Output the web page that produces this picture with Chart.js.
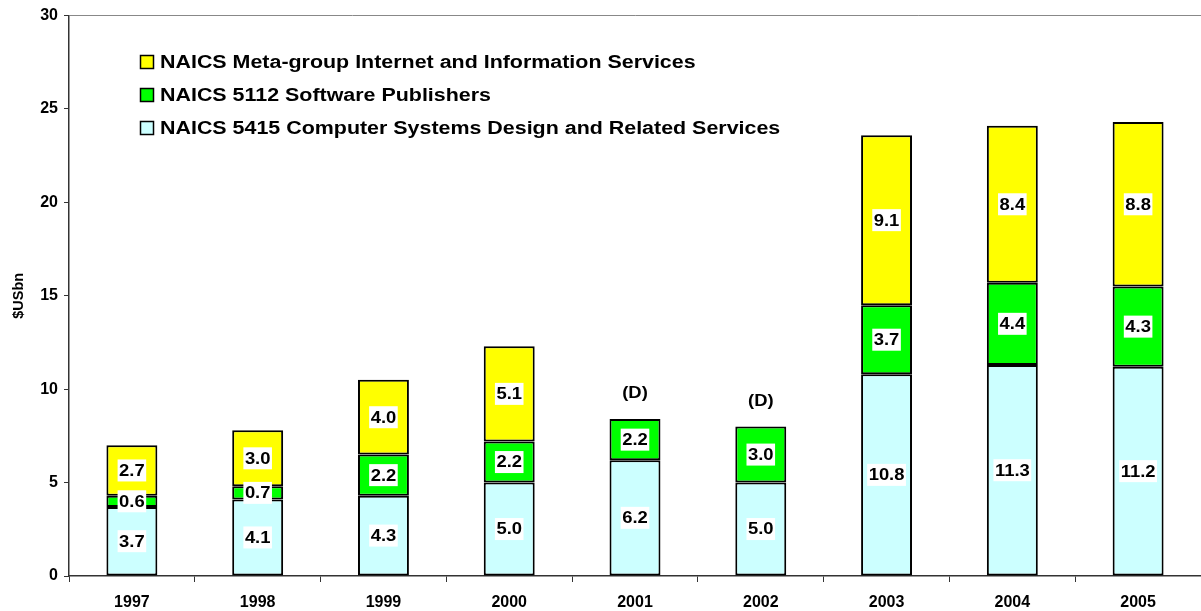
<!DOCTYPE html>
<html>
<head>
<meta charset="utf-8">
<script src="https://cdn.jsdelivr.net/npm/chart.js@4/dist/chart.umd.min.js"></script>
<style>
  html, body { margin: 0; padding: 0; background: #fff; }
  #wrap { width: 1201px; height: 611px; }
</style>
</head>
<body>
<div id="wrap"><canvas id="grafico"></canvas></div>
<script>
var years = ["1997", "1998", "1999", "2000", "2001", "2002", "2003", "2004", "2005"];
var computerSystems = [3.7, 4.1, 4.3, 5.0, 6.2, 5.0, 10.8, 11.3, 11.2];
var softwarePublishers = [0.6, 0.7, 2.2, 2.2, 2.2, 3.0, 3.7, 4.4, 4.3];
var internetInfo = [2.7, 3.0, 4.0, 5.1, null, null, 9.1, 8.4, 8.8];
var notas = ["", "", "", "", "(D)", "(D)", "", "", ""];
var yTicks = [0, 5, 10, 15, 20, 25, 30];

var fuente = "'Liberation Sans', Arial, sans-serif";
var ancho = 1.15; // texto algo ensanchado

function textoAncho(ctx, txt, x, y) {
    ctx.save();
    ctx.translate(x, y);
    ctx.scale(ancho, 1);
    ctx.fillText(txt, 0, 0);
    ctx.restore();
}

// etiquetas de valor en el centro de cada segmento, con fondo blanco
var etiquetas = {
    id: 'etiquetas',
    afterDatasetsDraw: function (chart) {
        var ctx = chart.ctx;
        ctx.save();
        ctx.font = 'bold 16px ' + fuente;
        ctx.textAlign = 'center';
        ctx.textBaseline = 'middle';
        chart.data.datasets.forEach(function (ds, i) {
            var meta = chart.getDatasetMeta(i);
            meta.data.forEach(function (bar, j) {
                var v = ds.data[j];
                if (v === null) return;
                var txt = v.toFixed(1);
                var cy = (bar.y + bar.base) / 2;
                var w = ctx.measureText(txt).width * ancho + 3;
                ctx.fillStyle = '#fff';
                ctx.fillRect(bar.x - w / 2, cy - 11, w, 22);
                ctx.fillStyle = '#000';
                textoAncho(ctx, txt, bar.x, cy + 1);
            });
        });
        // notas encima de la columna
        notas.forEach(function (n, j) {
            if (!n) return;
            var top = null;
            chart.data.datasets.forEach(function (ds, i) {
                if (ds.data[j] === null) return;
                var el = chart.getDatasetMeta(i).data[j];
                if (top === null || el.y < top) top = el.y;
            });
            ctx.fillStyle = '#000';
            textoAncho(ctx, n, chart.getDatasetMeta(0).data[j].x, top - 25);
        });
        ctx.restore();
    }
};

// leyenda dentro del area del grafico
var leyenda = {
    id: 'leyenda',
    afterDraw: function (chart) {
        var ctx = chart.ctx;
        ctx.save();
        ctx.font = 'bold 18px ' + fuente;
        ctx.textAlign = 'left';
        ctx.textBaseline = 'middle';
        var ds = chart.data.datasets.slice().reverse();
        ds.forEach(function (d, k) {
            var cy = 62 + k * 33;
            ctx.fillStyle = d.backgroundColor;
            ctx.fillRect(140, cy - 7, 14, 14);
            ctx.strokeStyle = '#000';
            ctx.lineWidth = 1.5;
            ctx.strokeRect(140.5, cy - 6.5, 13, 13);
            ctx.fillStyle = '#000';
            ctx.save();
            ctx.translate(160, cy + 1);
            ctx.scale(1.19, 1);
            ctx.fillText(d.label, 0, 0);
            ctx.restore();
        });
        ctx.restore();
    }
};

function serie(label, data, color) {
    return {
        label: label,
        data: data,
        backgroundColor: color,
        borderColor: '#000',
        borderWidth: 2,
        borderSkipped: false,
        barPercentage: 0.405,
        categoryPercentage: 1
    };
}

new Chart(document.getElementById('grafico'), {
    type: 'bar',
    data: {
        labels: years,
        datasets: [
            serie('NAICS 5415 Computer Systems Design and Related Services', computerSystems, '#CCFFFF'),
            serie('NAICS 5112 Software Publishers', softwarePublishers, '#00FF00'),
            serie('NAICS Meta-group Internet and Information Services', internetInfo, '#FFFF00')
        ]
    },
    options: {
        responsive: true,
        maintainAspectRatio: false,
        animation: false,
        layout: { padding: { top: 14, right: 0, left: 0, bottom: 0 } },
        plugins: {
            legend: { display: false },
            tooltip: { enabled: false }
        },
        scales: {
            x: {
                stacked: true,
                grid: {
                    offset: true,
                    drawOnChartArea: false,
                    tickColor: '#333',
                    tickLength: 6
                },
                border: { color: '#333', width: 1.5 },
                ticks: {
                    color: '#000',
                    font: { family: fuente, size: 16, weight: 'bold' },
                    padding: 11
                },
                afterFit: function (scale) { scale.height = 35; }
            },
            y: {
                stacked: true,
                min: 0,
                max: 30,
                afterBuildTicks: function (scale) {
                    scale.ticks = yTicks.map(function (v) { return { value: v }; });
                },
                grid: {
                    color: function (c) { return c.tick && c.tick.value === 30 ? '#888' : 'rgba(0,0,0,0)'; },
                    tickColor: '#333',
                    tickLength: 5
                },
                border: { color: '#333', width: 1.5 },
                ticks: {
                    color: '#000',
                    font: { family: fuente, size: 16, weight: 'bold' },
                    padding: 6
                },
                title: {
                    display: true,
                    text: '$USbn',
                    color: '#000',
                    font: { family: fuente, size: 14.5, weight: 'bold' },
                    padding: { top: 10, bottom: 0 }
                },
                afterFit: function (scale) { scale.width = 69; }
            }
        }
    },
    plugins: [etiquetas, leyenda]
});
</script>
</body>
</html>
